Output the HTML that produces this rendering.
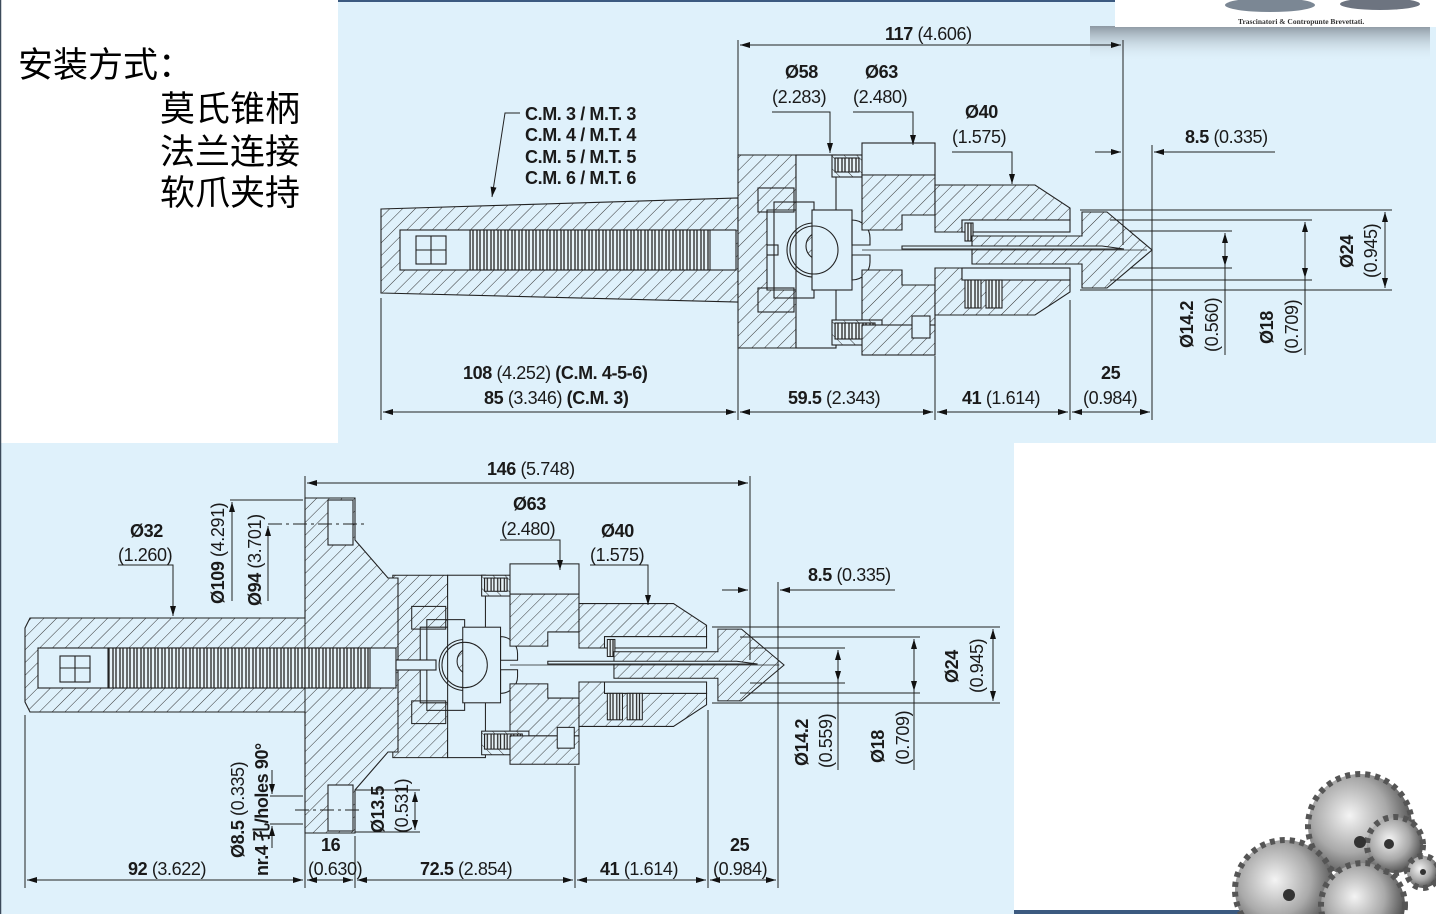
<!DOCTYPE html>
<html><head><meta charset="utf-8">
<style>
html,body{margin:0;padding:0;background:#fff;}
body{width:1436px;height:914px;position:relative;overflow:hidden;}
svg{position:absolute;left:0;top:0;}
.b{font-family:"Liberation Sans Narrow","Liberation Sans",sans-serif;font-weight:bold;font-size:18px;letter-spacing:-0.4px;fill:#1a1a1a;}
.n{font-family:"Liberation Sans Narrow","Liberation Sans",sans-serif;font-weight:normal;font-size:18px;letter-spacing:-0.4px;fill:#1a1a1a;}
.cn{font-family:"Liberation Sans","Noto Sans CJK SC",sans-serif;font-size:35px;fill:#000;}
</style></head><body>
<svg width="1436" height="914" viewBox="0 0 1436 914" xmlns="http://www.w3.org/2000/svg">
<defs>
<pattern id="h" patternUnits="userSpaceOnUse" width="9" height="9" patternTransform="rotate(45)">
<rect width="9" height="9" fill="#dff1fb"/><line x1="0" y1="0" x2="0" y2="9" stroke="#333" stroke-width="1"/>
</pattern>
<pattern id="h2" patternUnits="userSpaceOnUse" width="9" height="9" patternTransform="rotate(-45)">
<rect width="9" height="9" fill="#dff1fb"/><line x1="0" y1="0" x2="0" y2="9" stroke="#333" stroke-width="1"/>
</pattern>
<pattern id="sp" patternUnits="userSpaceOnUse" width="7" height="10">
<rect width="7" height="10" fill="#e8f3f8"/><line x1="1" y1="0" x2="1" y2="10" stroke="#222" stroke-width="1.3"/><line x1="4" y1="0" x2="4" y2="10" stroke="#222" stroke-width="1.3"/>
</pattern>
<marker id="a" viewBox="0 0 10 6" refX="10" refY="3" markerWidth="14" markerHeight="6" markerUnits="userSpaceOnUse" orient="auto-start-reverse"><path d="M0,0 L10,3 L0,6 z" fill="#111"/></marker>
<linearGradient id="sh" x1="0" y1="0" x2="0" y2="1"><stop offset="0" stop-color="#8d98a2"/><stop offset="1" stop-color="#dff1fb" stop-opacity="0"/></linearGradient>
<radialGradient id="gr" cx="0.4" cy="0.4" r="0.6"><stop offset="0" stop-color="#f4f4f4"/><stop offset="0.6" stop-color="#a9a9a9"/><stop offset="1" stop-color="#555"/></radialGradient>

<g id="head" fill="none" stroke="#222" stroke-width="1.1">
  <path d="M-124,-95 H-66 V-70 H-55 V-40 H-95 V40 H-55 V70 H-66 V98 H-124 Z" fill="url(#h)"/>
  <rect x="-66" y="-95" width="40" height="193" fill="#dff1fb"/>
  <rect x="-104" y="-62" width="36" height="24"/><rect x="-104" y="38" width="36" height="24"/>
  <rect x="-88" y="-48" width="40" height="96"/>
  <circle cx="-48" cy="0" r="27"/><circle cx="-42" cy="-4" r="14" fill="url(#h)"/>
  <rect x="-50" y="-40" width="40" height="80" fill="#dff1fb"/>
  <circle cx="-48" cy="0" r="24" fill="none"/>
  <path d="M-10,-30 A18,18 0 0,1 8,-12 V-5 H-10Z"/><path d="M-10,30 A18,18 0 0,0 8,12 V5 H-10Z"/>
  <rect x="-30" y="-95" width="30" height="22" fill="url(#h2)"/>
  <rect x="-27" y="-92" width="24" height="14" fill="url(#sp)"/>
  <rect x="0" y="-107" width="73" height="32" fill="#dff1fb"/>
  <path d="M0,-75 H73 V-35 H40 V-20 H0 Z" fill="url(#h)"/>
  <path d="M0,20 H40 V35 H73 V75 H0 Z" fill="url(#h)"/>
  <rect x="-30" y="70" width="50" height="25" fill="url(#h2)"/>
  <rect x="-27" y="73" width="40" height="16" fill="url(#sp)"/>
  <rect x="0" y="75" width="73" height="30" fill="url(#h)"/>
  <rect x="50" y="66" width="18" height="22" fill="#dff1fb"/>
  <path d="M73,-65 H173 L208,-42 V-30 H100 V-18 H73 Z" fill="url(#h)"/>
  <path d="M73,18 H100 V30 H208 V42 L173,65 H73 Z" fill="url(#h)"/>
  <rect x="100" y="-30" width="108" height="12" fill="#dff1fb"/>
  <rect x="100" y="18" width="108" height="12" fill="#dff1fb"/>
  <rect x="103" y="-27" width="8" height="18" fill="url(#sp)"/>
  <rect x="103" y="30" width="16" height="28" fill="url(#sp)"/>
  <rect x="124" y="30" width="16" height="28" fill="url(#sp)"/>
  <path d="M110,-14 H220 V-38 H245 L290,0 L245,38 H220 V14 H110 Z" fill="url(#h)"/>
  <path d="M40,-4 H240 L262,-1 H40 Z" fill="#dff1fb"/>
  <line x1="0" y1="0" x2="285" y2="0" stroke-width="0.8"/>
</g>
</defs>

<rect x="338" y="0" width="1098" height="443" fill="#dff1fb"/>
<rect x="0" y="443" width="1014" height="471" fill="#dff1fb"/>
<rect x="0" y="0" width="338" height="440" fill="#fff"/>
<line x1="0.5" y1="0" x2="0.5" y2="914" stroke="#3c4a5a" stroke-width="1.5"/>
<line x1="338" y1="1" x2="1115" y2="1" stroke="#3c5a80" stroke-width="2"/>
<rect x="1014" y="443" width="422" height="471" fill="#fff"/>
<rect x="1014" y="910" width="375" height="4" fill="#3c5a80"/>
<rect x="1090" y="26" width="340" height="36" fill="url(#sh)"/>
<rect x="1115" y="0" width="321" height="27" fill="#fff"/>
<ellipse cx="1270" cy="5" rx="45" ry="7" fill="#7b8794"/><ellipse cx="1380" cy="4" rx="40" ry="6" fill="#6d7480"/>
<text x="1238" y="24" font-family="Liberation Serif,serif" font-size="7.5" font-weight="bold" fill="#333">Trascinatori &amp; Contropunte Brevettati.</text>

<text class="cn" x="18" y="77">安装方式：</text>
<text class="cn" x="160" y="121">莫氏锥柄</text>
<text class="cn" x="160" y="164">法兰连接</text>
<text class="cn" x="160" y="205">软爪夹持</text>

<g stroke="#222" stroke-width="1.1">
<path d="M381,209 L738,198 V302 L381,293 Z" fill="url(#h)"/>
<rect x="400" y="230" width="336" height="40" fill="#dff1fb"/>
<rect x="470" y="230" width="240" height="40" fill="url(#sp)"/>
<rect x="416" y="236" width="30" height="28" fill="#dff1fb"/>
<line x1="416" y1="250" x2="446" y2="250"/><line x1="431" y1="236" x2="431" y2="264"/>
<rect x="738" y="245" width="40" height="10" fill="#dff1fb"/>
</g>
<use href="#head" x="862" y="250"/>

<g stroke="#222" stroke-width="1" fill="none">
<line x1="738" y1="40" x2="738" y2="200"/><line x1="1123" y1="40" x2="1123" y2="245"/>
<line x1="740" y1="45" x2="1121" y2="45" marker-start="url(#a)" marker-end="url(#a)"/>
<path d="M772,112 H830 V153" marker-end="url(#a)"/>
<path d="M853,112 H913 V145" marker-end="url(#a)"/>
<path d="M952,152 H1012 V184" marker-end="url(#a)"/>
<line x1="1152" y1="145" x2="1152" y2="420"/>
<line x1="1095" y1="152" x2="1121" y2="152" marker-end="url(#a)"/>
<line x1="1275" y1="152" x2="1154" y2="152" marker-end="url(#a)"/>
<line x1="1080" y1="210" x2="1392" y2="210"/><line x1="1080" y1="290" x2="1392" y2="290"/>
<line x1="1110" y1="220" x2="1312" y2="220"/><line x1="1110" y1="280" x2="1312" y2="280"/>
<line x1="1130" y1="231" x2="1232" y2="231"/><line x1="1130" y1="268" x2="1232" y2="268"/>
<line x1="1385" y1="212" x2="1385" y2="288" marker-start="url(#a)" marker-end="url(#a)"/>
<line x1="1305" y1="222" x2="1305" y2="278" marker-start="url(#a)" marker-end="url(#a)"/>
<line x1="1305" y1="278" x2="1305" y2="355"/>
<line x1="1225" y1="233" x2="1225" y2="266" marker-start="url(#a)" marker-end="url(#a)"/>
<line x1="1225" y1="266" x2="1225" y2="355"/>
<path d="M520,113 H505 L492,197" marker-end="url(#a)"/>
<line x1="381" y1="298" x2="381" y2="420"/><line x1="738" y1="346" x2="738" y2="420"/>
<line x1="935" y1="356" x2="935" y2="420"/><line x1="1070" y1="300" x2="1070" y2="420"/>
<line x1="383" y1="412" x2="736" y2="412" marker-start="url(#a)" marker-end="url(#a)"/>
<line x1="740" y1="412" x2="933" y2="412" marker-start="url(#a)" marker-end="url(#a)"/>
<line x1="937" y1="412" x2="1068" y2="412" marker-start="url(#a)" marker-end="url(#a)"/>
<line x1="1072" y1="412" x2="1150" y2="412" marker-start="url(#a)" marker-end="url(#a)"/>
</g>
<text class="b" x="885" y="40">117 <tspan class="n">(4.606)</tspan></text>
<text class="b" x="785" y="78">Ø58</text><text class="n" x="772" y="103">(2.283)</text>
<text class="b" x="865" y="78">Ø63</text><text class="n" x="853" y="103">(2.480)</text>
<text class="b" x="965" y="118">Ø40</text><text class="n" x="952" y="143">(1.575)</text>
<text class="b" x="1185" y="143">8.5 <tspan class="n">(0.335)</tspan></text>
<g class="b"><text x="525" y="120">C.M. 3 / M.T. 3</text><text x="525" y="141">C.M. 4 / M.T. 4</text><text x="525" y="163">C.M. 5 / M.T. 5</text><text x="525" y="184">C.M. 6 / M.T. 6</text></g>
<text class="b" x="463" y="379">108 <tspan class="n">(4.252)</tspan> (C.M. 4-5-6)</text>
<text class="b" x="484" y="404">85 <tspan class="n">(3.346)</tspan> (C.M. 3)</text>
<text class="b" x="788" y="404">59.5 <tspan class="n">(2.343)</tspan></text>
<text class="b" x="962" y="404">41 <tspan class="n">(1.614)</tspan></text>
<text class="b" x="1101" y="379">25</text><text class="n" x="1083" y="404">(0.984)</text>
<text class="b" transform="translate(1353,268) rotate(-90)">Ø24</text>
<text class="n" transform="translate(1377,278) rotate(-90)">(0.945)</text>
<text class="b" transform="translate(1193,348) rotate(-90)">Ø14.2</text>
<text class="n" transform="translate(1218,352) rotate(-90)">(0.560)</text>
<text class="b" transform="translate(1273,344) rotate(-90)">Ø18</text>
<text class="n" transform="translate(1298,354) rotate(-90)">(0.709)</text>

<use href="#head" transform="translate(510,665) scale(0.945)"/>
<g stroke="#222" stroke-width="1.1">
<path d="M25,628 L30,618 H305 V498 H355 V540 L388,578 H398 V752 H388 L355,790 V833 H305 V712 H30 L25,702 Z" fill="url(#h)"/>
<rect x="328" y="500" width="25" height="45" fill="#dff1fb"/>
<rect x="328" y="785" width="25" height="46" fill="#dff1fb"/>
<rect x="38" y="648" width="358" height="40" fill="#dff1fb"/>
<rect x="108" y="648" width="262" height="40" fill="url(#sp)"/>
<rect x="60" y="656" width="30" height="26" fill="#dff1fb"/>
<line x1="60" y1="668" x2="90" y2="668"/><line x1="75" y1="656" x2="75" y2="682"/>
<rect x="396" y="660" width="40" height="10" fill="#dff1fb"/>
</g>
<g stroke="#222" stroke-width="1" fill="none">
<line x1="305" y1="476" x2="305" y2="888"/><line x1="750" y1="476" x2="750" y2="660"/>
<line x1="307" y1="483" x2="748" y2="483" marker-start="url(#a)" marker-end="url(#a)"/>
<path d="M500,540 H560 V570" marker-end="url(#a)"/>
<path d="M590,565 H648 V605" marker-end="url(#a)"/>
<path d="M118,565 H173 V616" marker-end="url(#a)"/>
<line x1="778" y1="582" x2="778" y2="888"/>
<line x1="722" y1="590" x2="748" y2="590" marker-end="url(#a)"/>
<line x1="895" y1="590" x2="780" y2="590" marker-end="url(#a)"/>
<line x1="712" y1="627" x2="1000" y2="627"/><line x1="712" y1="703" x2="1000" y2="703"/>
<line x1="740" y1="637" x2="920" y2="637"/><line x1="740" y1="693" x2="920" y2="693"/>
<line x1="750" y1="648" x2="845" y2="648"/><line x1="750" y1="683" x2="845" y2="683"/>
<line x1="993" y1="629" x2="993" y2="701" marker-start="url(#a)" marker-end="url(#a)"/>
<line x1="914" y1="639" x2="914" y2="691" marker-start="url(#a)" marker-end="url(#a)"/>
<line x1="914" y1="691" x2="914" y2="770"/>
<line x1="838" y1="650" x2="838" y2="681" marker-start="url(#a)" marker-end="url(#a)"/>
<line x1="838" y1="681" x2="838" y2="770"/>
<line x1="230" y1="500" x2="303" y2="500"/><line x1="268" y1="524" x2="365" y2="524" stroke-dasharray="14,4,3,4"/>
<line x1="232" y1="601" x2="232" y2="502" marker-end="url(#a)"/>
<line x1="268" y1="601" x2="268" y2="526" marker-end="url(#a)"/>
<line x1="270" y1="796" x2="303" y2="796"/><line x1="270" y1="824" x2="303" y2="824"/>
<line x1="295" y1="810" x2="362" y2="810" stroke-dasharray="14,4,3,4"/>
<line x1="272" y1="770" x2="272" y2="794" marker-end="url(#a)"/>
<line x1="272" y1="848" x2="272" y2="826" marker-end="url(#a)"/>
<line x1="355" y1="790" x2="420" y2="790"/><line x1="355" y1="832" x2="420" y2="832"/>
<line x1="415" y1="792" x2="415" y2="830" marker-start="url(#a)" marker-end="url(#a)"/>
<line x1="25" y1="715" x2="25" y2="888"/><line x1="355" y1="836" x2="355" y2="888"/>
<line x1="575" y1="766" x2="575" y2="888"/><line x1="708" y1="710" x2="708" y2="888"/>
<line x1="27" y1="880" x2="303" y2="880" marker-start="url(#a)" marker-end="url(#a)"/>
<line x1="307" y1="880" x2="353" y2="880" marker-start="url(#a)" marker-end="url(#a)"/>
<line x1="357" y1="880" x2="573" y2="880" marker-start="url(#a)" marker-end="url(#a)"/>
<line x1="577" y1="880" x2="706" y2="880" marker-start="url(#a)" marker-end="url(#a)"/>
<line x1="710" y1="880" x2="776" y2="880" marker-start="url(#a)" marker-end="url(#a)"/>
</g>
<text class="b" x="487" y="475">146 <tspan class="n">(5.748)</tspan></text>
<text class="b" x="513" y="510">Ø63</text><text class="n" x="501" y="535">(2.480)</text>
<text class="b" x="601" y="537">Ø40</text><text class="n" x="590" y="561">(1.575)</text>
<text class="b" x="130" y="537">Ø32</text><text class="n" x="118" y="561">(1.260)</text>
<text class="b" x="808" y="581">8.5 <tspan class="n">(0.335)</tspan></text>
<text class="b" transform="translate(224,604) rotate(-90)">Ø109 <tspan class="n">(4.291)</tspan></text>
<text class="b" transform="translate(261,606) rotate(-90)">Ø94 <tspan class="n">(3.701)</tspan></text>
<text class="b" transform="translate(958,683) rotate(-90)">Ø24</text>
<text class="n" transform="translate(983,693) rotate(-90)">(0.945)</text>
<text class="b" transform="translate(808,766) rotate(-90)">Ø14.2</text>
<text class="n" transform="translate(832,768) rotate(-90)">(0.559)</text>
<text class="b" transform="translate(884,763) rotate(-90)">Ø18</text>
<text class="n" transform="translate(909,765) rotate(-90)">(0.709)</text>
<text class="b" transform="translate(244,858) rotate(-90)">Ø8.5 <tspan class="n">(0.335)</tspan></text>
<text class="b" transform="translate(268,876) rotate(-90)">nr.4 孔/holes 90°</text>
<text class="b" transform="translate(384,833) rotate(-90)">Ø13.5</text>
<text class="n" transform="translate(408,833) rotate(-90)">(0.531)</text>
<text class="b" x="128" y="875">92 <tspan class="n">(3.622)</tspan></text>
<text class="b" x="321" y="851">16</text><text class="n" x="308" y="875">(0.630)</text>
<text class="b" x="420" y="875">72.5 <tspan class="n">(2.854)</tspan></text>
<text class="b" x="600" y="875">41 <tspan class="n">(1.614)</tspan></text>
<text class="b" x="730" y="851">25</text><text class="n" x="713" y="875">(0.984)</text>

<g stroke="#555" stroke-width="6" stroke-dasharray="5,5">
<circle cx="1360" cy="826" r="52" fill="url(#gr)"/>
<circle cx="1285" cy="890" r="50" fill="url(#gr)"/>
<circle cx="1363" cy="905" r="42" fill="url(#gr)"/>
<circle cx="1395" cy="845" r="28" fill="url(#gr)"/>
<circle cx="1423" cy="872" r="16" fill="url(#gr)"/>
</g>
<g fill="#333"><circle cx="1360" cy="842" r="6"/><circle cx="1289" cy="895" r="6"/><circle cx="1389" cy="844" r="5"/><circle cx="1423" cy="872" r="3"/></g>
</svg>
</body></html>
